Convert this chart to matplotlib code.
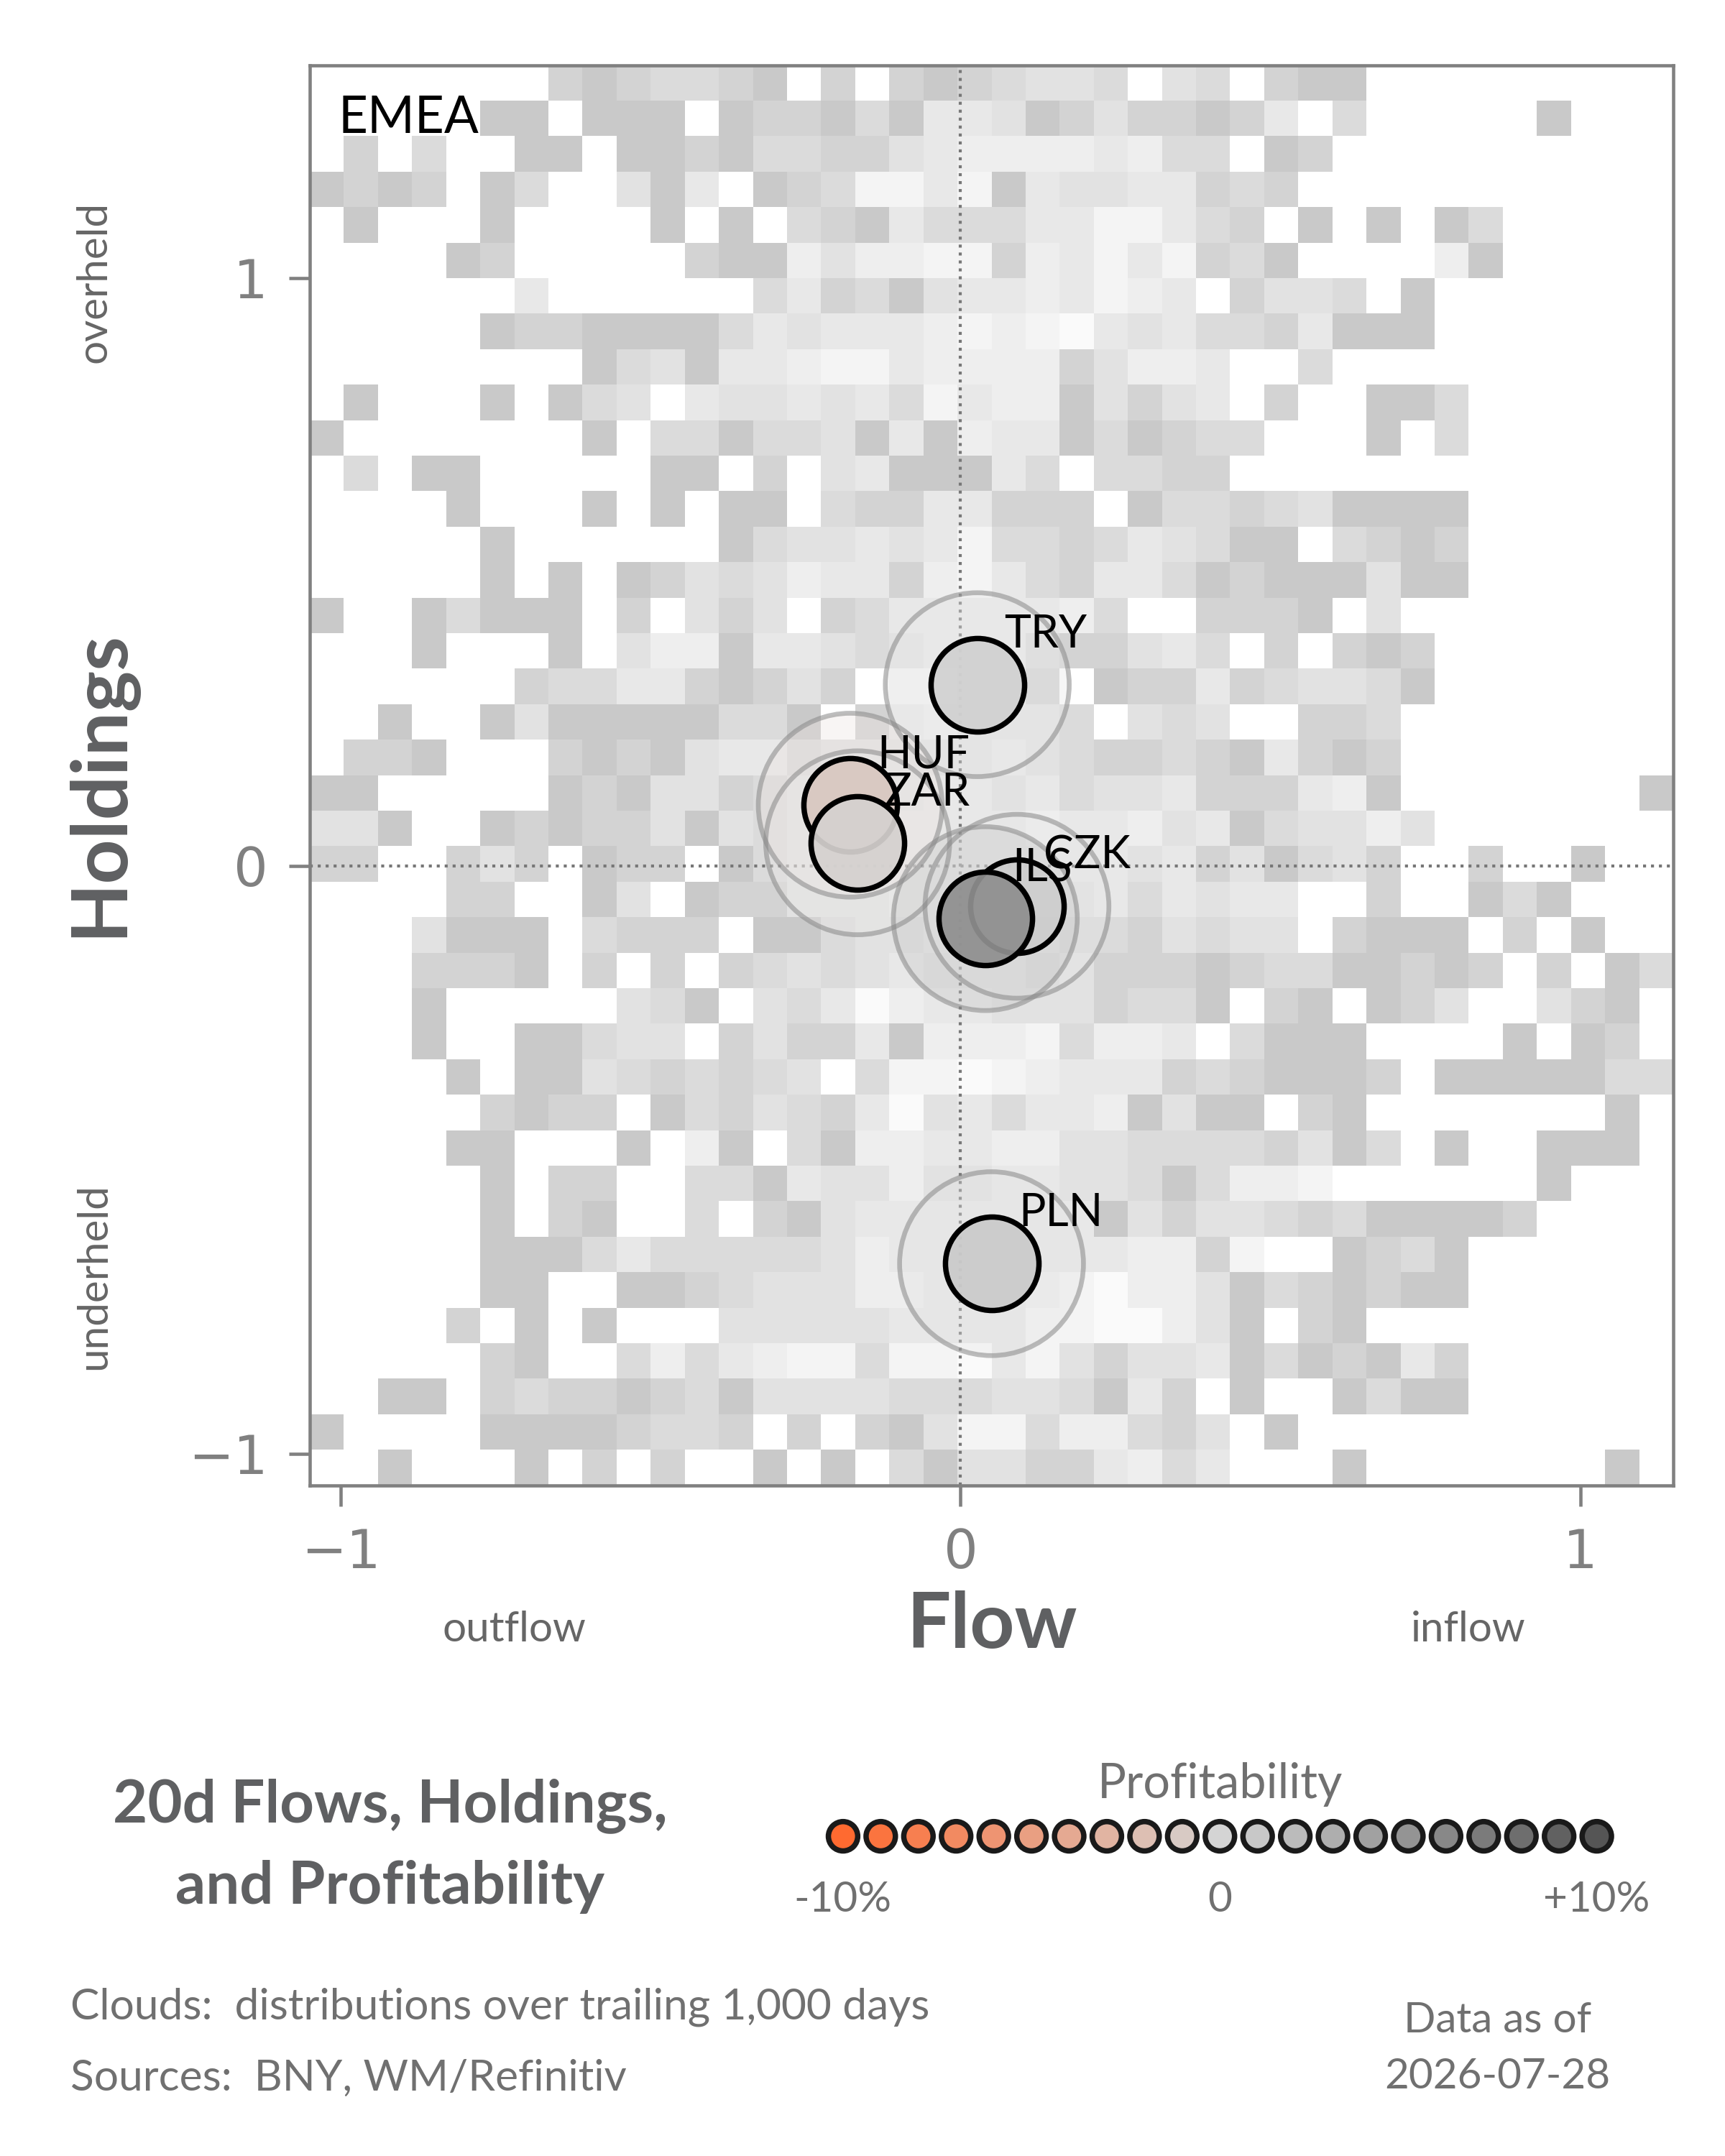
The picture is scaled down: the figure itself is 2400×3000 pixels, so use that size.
import numpy as np
import matplotlib
matplotlib.use('Agg')
import matplotlib.pyplot as plt
from matplotlib.colors import ListedColormap, BoundaryNorm, LinearSegmentedColormap, Normalize
from matplotlib import transforms

plt.rcParams['font.family'] = ['Lato', 'DejaVu Sans']

# 20d flow / holdings position and profitability (%) for each currency
currencies = ['TRY', 'HUF', 'ZAR', 'CZK', 'ILS', 'PLN']
flow = [0.027, -0.178, -0.166, 0.091, 0.040, 0.050]
holdings = [0.308, 0.103, 0.039, -0.069, -0.090, -0.677]
profit = [0.3, -1.2, -0.3, 0.6, 5.4, 0.8]

# cloud of trailing 1,000 days: density level per cell, top row first (0 = empty)
cloud_rows = [
    "0000000212332102021234430430211000000000",
    "0000011011101221315541242212503000001000",
    "0203001101121332245666656330120000000000",
    "1212013004150123775715445523200000000000",
    "0100010000101032153335577532010101300000",
    "0000120000021164667726575723100006100000",
    "0000005000000352314556576502443010000000",
    "0000012211113545556767854533251110000000",
    "0000000013415567756666246650030000000000",
    "0100010134054454537566142450200113000000",
    "1000000010331334151655131233000103000000",
    "0301100000110204511153033220000000000000",
    "0000100010101103225522201332341111000000",
    "0000010000001344545733235431103212000000",
    "0000010101243465526753255312111411000000",
    "1001311102042402355555630022210400000000",
    "0001000104661554345553224530202120000000",
    "0000002335521242077552012252344310000000",
    "0010014111113310256444304340022300000000",
    "0221000212145534444454322321521200000000",
    "1100000121442344445545344522256100000001",
    "4410012122414344455556556451344640000000",
    "2200242012201344555555554524134200200100",
    "0000220014012244455555453545500200131000",
    "0004111032220113445554332434402111020100",
    "0002221020202343454443422212331121202013",
    "0001000004310435865544423310210124004210",
    "0001001134402422516667366503111000010120",
    "0000101143232340377876555232111201111133",
    "0000021220132432584535561411021000000010",
    "0000110001061031665566443333241301001110",
    "0000010220033154464455443136670000001000",
    "0000010210030214555555514244323111120000",
    "0000011135333334655555556627001231000000",
    "0000011001123444665556786641321211000000",
    "0000201010004444455557788641021000000000",
    "0000021003635677377857424451312152000000",
    "0011023221231444433344315201001311000000",
    "1000011112332020214773663240100000000000",
    "0010001020200101031442256350001000000010",
]

# legend steps for profitability
legend_steps = list(range(-10, 11))
legend_labels = ['-10%', '0', '+10%']

# colours
cloud_grays = ['#c9c9c9', '#d3d3d3', '#dbdbdb', '#e2e2e2', '#e8e8e8', '#eeeeee', '#f4f4f4', '#fafafa']
profit_cmap = LinearSegmentedColormap.from_list('profit', ['#ff6a30', '#d4d4d4', '#555555'])
profit_norm = Normalize(-10, 10)
text_gray = '#5f6062'
axis_gray = '#808080'

fig = plt.figure(figsize=(8, 10), dpi=300)
ax = fig.add_axes([0.1796, 0.3111, 0.7904, 0.6587])

# background cloud (2d histogram)
grid = np.array([[int(ch) for ch in row] for row in cloud_rows])[::-1]
grid = np.ma.masked_equal(grid, 0)
flow_edges = np.linspace(-1.05, 1.15, grid.shape[1] + 1)
hold_edges = np.linspace(-1.054, 1.362, grid.shape[0] + 1)
ax.pcolormesh(flow_edges, hold_edges, grid,
              cmap=ListedColormap(cloud_grays),
              norm=BoundaryNorm(np.arange(0.5, 9.5, 1), 8), zorder=0)

ax.axhline(0, color='#777777', ls=':', lw=1, zorder=1)
ax.axvline(0, color='#777777', ls=':', lw=1, zorder=1)

colors = profit_cmap(profit_norm(np.array(profit)))

# halos: lightened marker colour, soft grey ring
halo = colors.copy()
halo[:, :3] = 0.5 * halo[:, :3] + 0.5
halo[:, 3] = 0.35
ax.scatter(flow, holdings, s=3770, facecolors=halo, edgecolors='none', zorder=2)
ax.scatter(flow, holdings, s=3770, facecolors='none', edgecolors='#888888',
           linewidths=1.6, alpha=0.55, zorder=2)

# currency markers
for i, name in enumerate(currencies):
    face = colors[i].copy()
    face[3] = 0.93
    ax.scatter(flow[i], holdings[i], s=975, facecolors=[face], edgecolors='black',
               linewidths=1.8, zorder=3)
for i, name in enumerate(currencies):
    ax.annotate(name, (flow[i], holdings[i]), xytext=(9, 12.5), textcoords='offset points',
                fontsize=15, color='black', zorder=4)

ax.set_xlim(flow_edges[0], flow_edges[-1])
ax.set_ylim(hold_edges[0], hold_edges[-1])
ax.set_xticks([-1, 0, 1])
ax.set_yticks([-1, 0, 1])
for sp in ax.spines.values():
    sp.set_color(axis_gray)
    sp.set_linewidth(1.1)
ax.tick_params(length=7, width=1.1, color=axis_gray, labelcolor=axis_gray,
               labelsize=18, pad=7, labelfontfamily='DejaVu Sans')

ax.text(0.021, 0.979, 'EMEA', transform=ax.transAxes, ha='left', va='top',
        fontsize=17, color='black')

ax.set_xlabel('Flow', fontsize=26, fontweight='bold', color=text_gray)
ax.xaxis.set_label_coords(0.5, -0.099)
ax.xaxis.label.set_va('center')
ax.set_ylabel('Holdings', fontsize=26, fontweight='bold', color=text_gray)
ax.yaxis.set_label_coords(-0.154, 0.494)
ax.yaxis.label.set_va('center')

# direction hints
fig.text(0.298, 0.244, 'outflow', ha='center', va='center', fontsize=14, color='#666666')
fig.text(0.851, 0.244, 'inflow', ha='center', va='center', fontsize=14, color='#666666')
fig.text(0.0546, 0.8693, 'overheld', rotation=90, ha='center', va='center', fontsize=14, color='#666666')
fig.text(0.0546, 0.408, 'underheld', rotation=90, ha='center', va='center', fontsize=14, color='#666666')

# title block
fig.text(0.226, 0.1438, '20d Flows, Holdings,\nand Profitability', ha='center', va='center',
         multialignment='center', linespacing=1.6, fontsize=20, fontweight='bold', color=text_gray)

# profitability legend
axl = fig.add_axes([0.4778, 0.1283, 0.4588, 0.04])
axl.scatter(legend_steps, np.zeros(len(legend_steps)), s=96,
            color=profit_cmap(profit_norm(np.array(legend_steps))),
            edgecolors='#1a1a1a', linewidths=1.8)
axl.set_xlim(-10.5, 10.5)
axl.set_ylim(-1, 1)
axl.axis('off')
tr = transforms.blended_transform_factory(axl.transData, fig.transFigure)
for v, lab in zip([-10, 0, 10], legend_labels):
    fig.text(v, 0.119, lab, transform=tr, ha='center', va='center', fontsize=14, color='#707070')
fig.text(0, 0.1723, 'Profitability', transform=tr, ha='center', va='center', fontsize=16, color='#707070')

# footer
fig.text(0.0408, 0.069, 'Clouds:  distributions over trailing 1,000 days', ha='left', va='center',
         fontsize=14.5, color='#707070')
fig.text(0.0408, 0.036, 'Sources:  BNY, WM/Refinitiv', ha='left', va='center',
         fontsize=14.5, color='#707070')
fig.text(0.868, 0.0627, 'Data as of', ha='center', va='center', fontsize=14, color='#707070')
fig.text(0.868, 0.0367, '2026-07-28', ha='center', va='center', fontsize=14, color='#707070')

fig.savefig('out.png', dpi=300)
